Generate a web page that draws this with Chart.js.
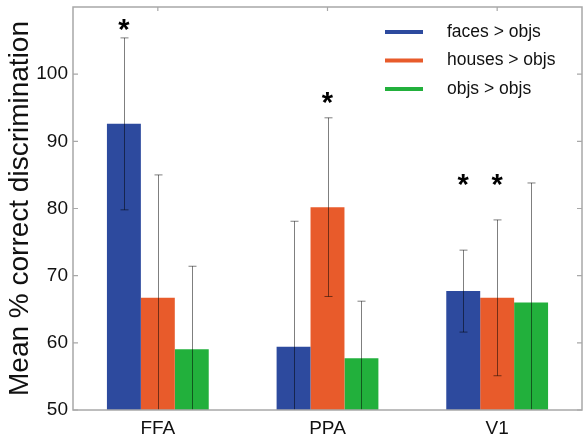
<!DOCTYPE html>
<html>
<head>
<meta charset="utf-8">
<script src="https://cdn.jsdelivr.net/npm/chart.js@4.4.1/dist/chart.umd.min.js"></script>
<style>
    html, body { margin: 0; padding: 0; background: #fff; }
    canvas { display: block; }
</style>
</head>
<body>
<canvas id="chart-discrimination" width="583" height="437"></canvas>
<script>
    // data
    const regions = ['FFA', 'PPA', 'V1'];
    const seriesLabels = ['faces > objs', 'houses > objs', 'objs > objs'];
    const facesMean = [92.6, 59.4, 67.7];
    const housesMean = [66.7, 80.2, 66.7];
    const objsMean = [59.05, 57.7, 66.0];
    const facesErr = [12.8, 18.7, 6.1];
    const housesErr = [18.3, 13.3, 11.6];
    const objsErr = [12.35, 8.5, 17.8];
    // asterisk heights (value units), null = no mark
    const facesStar = [107.3, null, 84.3];
    const housesStar = [null, 96.4, 84.3];
    const objsStar = [null, null, null];
    const yTicks = [50, 60, 70, 80, 90, 100];

    const FONT = '"Liberation Sans", Arial, Helvetica, sans-serif';
    const colors = ['#2d4a9e', '#e85b2b', '#22b03c'];
    const frameColor = '#a8a8a8';

    const errors = [facesErr, housesErr, objsErr];
    const stars = [facesStar, housesStar, objsStar];

    const errorBarsPlugin = {
        id: 'errorBars',
        afterDatasetsDraw(chart) {
            const { ctx, chartArea, scales: { y } } = chart;
            ctx.save();
            ctx.beginPath();
            ctx.rect(chartArea.left, chartArea.top, chartArea.right - chartArea.left, chartArea.bottom - chartArea.top);
            ctx.clip();
            ctx.strokeStyle = 'rgba(0, 0, 0, 0.5)';
            ctx.lineWidth = 1;
            chart.data.datasets.forEach((ds, i) => {
                chart.getDatasetMeta(i).data.forEach((bar, j) => {
                    const mean = ds.data[j];
                    const err = errors[i][j];
                    const top = y.getPixelForValue(mean + err);
                    const bottom = y.getPixelForValue(mean - err);
                    const x = Math.round(bar.x) + 0.5;
                    ctx.beginPath();
                    ctx.moveTo(x, top);
                    ctx.lineTo(x, bottom);
                    ctx.moveTo(x - 4, top);
                    ctx.lineTo(x + 4, top);
                    ctx.moveTo(x - 4, bottom);
                    ctx.lineTo(x + 4, bottom);
                    ctx.stroke();
                });
            });
            ctx.restore();

            // significance asterisks
            ctx.save();
            ctx.fillStyle = '#000';
            ctx.font = `bold 29px ${FONT}`;
            ctx.textAlign = 'center';
            ctx.textBaseline = 'alphabetic';
            const m = ctx.measureText('*');
            const shift = (m.actualBoundingBoxAscent - m.actualBoundingBoxDescent) / 2;
            chart.data.datasets.forEach((ds, i) => {
                chart.getDatasetMeta(i).data.forEach((bar, j) => {
                    const s = stars[i][j];
                    if (s == null) return;
                    ctx.fillText('*', bar.x, y.getPixelForValue(s) + shift);
                });
            });
            ctx.restore();
        }
    };

    const framePlugin = {
        id: 'frame',
        afterDraw(chart) {
            const { ctx, chartArea: { left, right, top, bottom }, scales: { x, y } } = chart;
            ctx.save();
            ctx.strokeStyle = frameColor;
            ctx.lineWidth = 1.5;
            ctx.strokeRect(left, top, right - left, bottom - top);
            ctx.lineWidth = 1.2;
            ctx.beginPath();
            yTicks.forEach(v => {
                const py = y.getPixelForValue(v);
                ctx.moveTo(left, py);
                ctx.lineTo(left + 5, py);
                ctx.moveTo(right, py);
                ctx.lineTo(right - 5, py);
            });
            regions.forEach((r, i) => {
                const px = x.getPixelForValue(i);
                ctx.moveTo(px, top);
                ctx.lineTo(px, top + 4);
            });
            ctx.stroke();
            ctx.restore();
        }
    };

    const legendPlugin = {
        id: 'boxLegend',
        afterDraw(chart) {
            const { ctx, chartArea: { right, top } } = chart;
            ctx.save();
            ctx.font = `17.5px ${FONT}`;
            ctx.textBaseline = 'middle';
            ctx.textAlign = 'left';
            chart.data.datasets.forEach((ds, i) => {
                const rowY = top + 25 + i * 28.5;
                ctx.strokeStyle = ds.backgroundColor;
                ctx.lineWidth = 4;
                ctx.beginPath();
                ctx.moveTo(right - 197, rowY);
                ctx.lineTo(right - 159, rowY);
                ctx.stroke();
                ctx.fillStyle = '#111';
                ctx.fillText(ds.label, right - 135, rowY);
            });
            ctx.restore();
        }
    };

    const chart = new Chart(
        document.getElementById('chart-discrimination'),
        {
            type: 'bar',
            data: {
                labels: regions,
                datasets: [facesMean, housesMean, objsMean].map((values, i) => ({
                    label: seriesLabels[i],
                    data: values,
                    backgroundColor: colors[i],
                    borderWidth: 0,
                    categoryPercentage: 0.6,
                    barPercentage: 1.0
                }))
            },
            options: {
                responsive: false,
                animation: false,
                layout: {
                    padding: { top: 7, right: 1, left: 0, bottom: 0 }
                },
                scales: {
                    x: {
                        grid: { display: false, drawTicks: false },
                        border: { display: false },
                        ticks: {
                            color: '#111',
                            padding: 7,
                            font: { family: FONT, size: 19 }
                        },
                        afterFit: scale => {
                            scale.height = 27;
                            scale.paddingLeft = 0;
                            scale.paddingRight = 0;
                        }
                    },
                    y: {
                        min: 50,
                        max: 110,
                        grid: { display: false, drawTicks: false },
                        border: { display: false },
                        afterBuildTicks: scale => {
                            scale.ticks = yTicks.map(v => ({ value: v }));
                        },
                        ticks: {
                            color: '#111',
                            padding: 5,
                            font: { family: FONT, size: 19 }
                        },
                        title: {
                            display: true,
                            text: 'Mean % correct discrimination',
                            color: '#111',
                            font: { family: FONT, size: 28 },
                            padding: { top: 3, bottom: 0 }
                        },
                        afterFit: scale => {
                            scale.width = 73;
                            scale.paddingTop = 0;
                            scale.paddingBottom = 0;
                        }
                    }
                },
                plugins: {
                    legend: { display: false },
                    tooltip: { enabled: false }
                }
            },
            plugins: [errorBarsPlugin, framePlugin, legendPlugin]
        }
    );
</script>
</body>
</html>
